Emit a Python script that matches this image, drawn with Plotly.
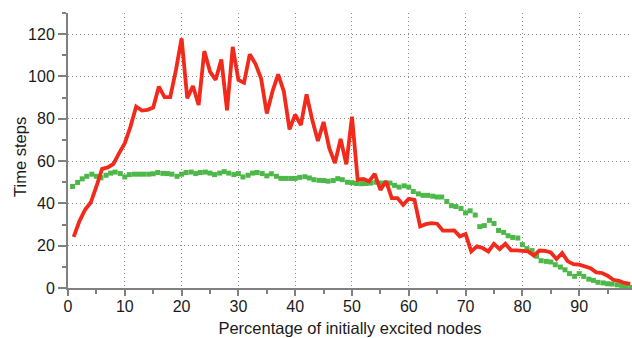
import plotly.graph_objects as go

# Percentage of initially excited nodes (red series, integer percent)
red_x = list(range(1, 100))
red_y = [24.2, 31.5, 37.0, 40.4, 48.0, 56.3, 57.0, 58.7, 63.8, 68.5,
         76.3, 85.8, 83.9, 84.2, 85.3, 95.2, 90.2, 90.2, 103.0, 118.0,
         89.7, 95.5, 86.5, 112.0, 102.3, 98.4, 108.0, 84.0, 114.0, 98.4,
         97.1, 110.5, 106.0, 99.0, 82.5, 92.9, 101.0, 92.9, 75.0, 81.9,
         77.0, 91.5, 79.5, 69.5, 78.5, 66.1, 59.0, 70.5, 58.5, 81.0,
         51.2, 51.5, 50.4, 54.0, 46.4, 50.5, 42.5, 42.5, 39.3, 42.2,
         41.7, 29.1, 30.2, 30.7, 30.4, 27.1, 27.1, 27.2, 24.4, 25.5,
         17.3, 19.7, 18.9, 17.3, 20.9, 18.4, 20.9, 17.8, 17.8, 17.7,
         17.3, 15.3, 17.7, 17.5, 16.8, 13.7, 16.5, 12.6, 11.3, 11.0,
         10.2, 9.4, 7.4, 7.1, 5.8, 3.9, 3.4, 2.4, 2.0]

green_x = [0.8, 1.7, 2.5, 3.3, 4.2, 5.0, 5.8, 6.7, 7.5, 8.3, 9.2, 10.0,
           10.8, 11.7, 12.5, 13.3, 14.2, 15.0, 15.8, 16.7, 17.5, 18.3, 19.2, 20.0,
           20.8, 21.7, 22.5, 23.3, 24.2, 25.0, 25.8, 26.7, 27.5, 28.3, 29.2, 30.0,
           30.8, 31.7, 32.5, 33.3, 34.2, 35.0, 35.8, 36.7, 37.5, 38.3, 39.2, 40.0,
           40.8, 41.7, 42.5, 43.3, 44.2, 45.0, 45.8, 46.7, 47.5, 48.3, 49.2, 50.0,
           50.8, 51.7, 52.5, 53.3, 54.2, 55.0, 55.8, 56.7, 57.5, 58.3, 59.2, 60.0,
           60.8, 61.7, 62.5, 63.3, 64.2, 65.0, 65.8, 66.7, 67.5, 68.3, 69.2, 70.0,
           70.8, 71.7, 72.5, 73.3, 74.2, 75.0, 75.8, 76.7, 77.5, 78.3, 79.2, 80.0,
           80.8, 81.7, 82.5, 83.3, 84.2, 85.0, 85.8, 86.7, 87.5, 88.3, 89.2, 90.0,
           90.8, 91.7, 92.5, 93.3, 94.2, 95.0, 95.8, 96.7, 97.5, 98.3, 99.2]
green_y = [48.0, 49.9, 51.6, 52.8, 53.8, 52.8, 52.1, 53.3, 54.3, 54.8, 54.1, 52.5,
           53.6, 53.8, 53.8, 53.8, 53.8, 54.0, 54.6, 54.2, 54.1, 53.8, 52.8, 53.8,
           54.6, 54.8, 54.1, 54.6, 54.8, 54.3, 53.6, 54.3, 55.0, 54.3, 53.6, 54.1,
           52.5, 53.3, 54.3, 54.6, 54.1, 53.0, 54.0, 52.8, 51.8, 51.8, 51.8, 51.8,
           52.3, 52.6, 52.0, 51.2, 50.9, 50.8, 50.5, 50.8, 51.7, 51.2, 50.0, 49.8,
           49.4, 49.3, 49.4, 49.6, 50.0, 49.6, 49.6, 49.6, 48.5, 47.7, 48.3, 47.7,
           45.6, 44.5, 43.8, 43.8, 43.4, 43.0, 43.0, 40.9, 38.9, 38.5, 37.6, 35.5,
           36.5, 34.5, 29.0, 29.5, 32.0, 30.5, 27.2, 26.3, 24.7, 23.9, 23.6, 20.5,
           18.6, 17.7, 15.0, 12.9, 12.6, 12.3, 11.0, 9.9, 8.6, 6.8, 5.5, 6.8,
           5.5, 4.2, 3.6, 2.7, 2.4, 2.0, 1.9, 1.5, 1.2, 0.8, 0.3]

x_ticks = [0, 10, 20, 30, 40, 50, 60, 70, 80, 90]
y_ticks = [0, 20, 40, 60, 80, 100, 120]

AX = "#808080"
FONT = "Liberation Sans, Arial, Helvetica, sans-serif"
TXT = "#1a1a1a"

fig = go.Figure()
fig.add_trace(go.Scatter(x=green_x, y=green_y, mode="markers",
                         marker=dict(symbol="square", size=5, color="#4db848",
                                     line=dict(width=0)),
                         showlegend=False, hoverinfo="skip"))
fig.add_trace(go.Scatter(x=red_x, y=red_y, mode="lines",
                         line=dict(color="#f22a1c", width=3.8),
                         showlegend=False, hoverinfo="skip"))

fig.update_layout(
    width=632, height=338,
    margin=dict(l=68, r=0, t=13, b=50),
    paper_bgcolor="white", plot_bgcolor="white",
    font=dict(family=FONT, size=16, color=TXT),
    annotations=[dict(text="Time steps", xref="paper", yref="paper",
                      x=-0.085, y=0.477, textangle=-90, showarrow=False,
                      font=dict(family=FONT, size=16.5, color=TXT),
                      xanchor="center", yanchor="middle")],
)
fig.update_xaxes(
    range=[0, 99.3], tickvals=x_ticks, ticktext=[str(v) for v in x_ticks],
    showline=True, linecolor=AX, linewidth=2,
    ticks="outside", ticklen=6, tickwidth=1.5, tickcolor=AX,
    ticklabelstandoff=-3,
    minor=dict(dtick=5, tick0=0, ticks="outside", ticklen=4, tickcolor=AX, tickwidth=1.5, showgrid=False),
    showgrid=True, gridcolor="#8c8c8c", griddash="1px,3px", gridwidth=1,
    zeroline=False,
    title=dict(text="Percentage of initially excited nodes", standoff=8,
               font=dict(family=FONT, size=16.5, color=TXT)),
)
fig.update_yaxes(
    range=[0, 130], tickvals=y_ticks, ticktext=[str(v) for v in y_ticks],
    showline=True, linecolor=AX, linewidth=2,
    ticks="outside", ticklen=8, tickwidth=1.5, tickcolor=AX,
    minor=dict(dtick=10, tick0=0, ticks="outside", ticklen=4, tickcolor=AX, tickwidth=1.5, showgrid=False),
    showgrid=True, gridcolor="#8c8c8c", griddash="1px,3px", gridwidth=1,
    zeroline=False,
)

fig.write_html("out.html")
